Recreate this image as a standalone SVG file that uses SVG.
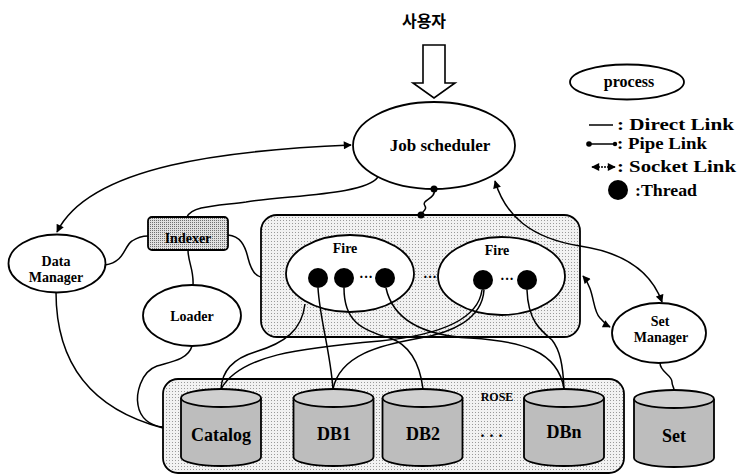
<svg xmlns="http://www.w3.org/2000/svg" width="738" height="476" viewBox="0 0 738 476">
<style>
text{font-family:"Liberation Serif","Times New Roman",serif;font-weight:bold;fill:#000;text-anchor:middle}
.node{fill:#fff;stroke:#000;stroke-width:1.8}
.ln{fill:none;stroke:#000;stroke-width:1.5}
.cylb{fill:#bdbdbd;stroke:#000;stroke-width:1.8}
.cylt{fill:#cfcfcf;stroke:#000;stroke-width:1.8}
.cyltxt{font-size:18px}
.small{font-size:14px}
.dot{fill:#000}
.leg{font-size:17px;text-anchor:start}
</style>
<defs>
<marker id="ah" viewBox="0 0 10 10" refX="9" refY="5" markerWidth="9" markerHeight="8" markerUnits="userSpaceOnUse" orient="auto-start-reverse">
<path d="M0,0 L10,5 L0,10 z" fill="#000"/>
</marker>
<pattern id="dots" width="3" height="3" patternUnits="userSpaceOnUse">
<rect width="3" height="3" fill="#f2f2f2"/>
<rect x="1" y="1" width="1" height="1" fill="#9a9a9a"/>
</pattern>
<pattern id="dots2" width="2" height="2" patternUnits="userSpaceOnUse">
<rect width="2" height="2" fill="#e0e0e0"/>
<rect width="1" height="1" fill="#707070"/>
</pattern>
</defs>

<g id="title">
<text x="424" y="27" style="font-family:'Noto Sans CJK KR','Noto Sans',sans-serif;font-size:16px;font-weight:bold">사용자</text>
<polygon points="423,45 445,45 445,83 455,83 434,98 413,83 423,83" fill="#fff" stroke="#000" stroke-width="1.6"/>
</g>

<g id="legend">
<ellipse cx="627" cy="82" rx="57" ry="17.5" class="node"/>
<text x="629" y="87" style="font-size:16px">process</text>
<line x1="589" y1="125" x2="613" y2="125" class="ln"/>
<text x="617" y="130" class="leg" textLength="117" lengthAdjust="spacingAndGlyphs">: Direct Link</text>
<line x1="589" y1="144" x2="615" y2="144" class="ln"/>
<circle cx="589" cy="144" r="2.8" class="dot"/>
<circle cx="615" cy="144" r="2.2" class="dot"/>
<text x="617" y="149" class="leg" textLength="90" lengthAdjust="spacingAndGlyphs">: Pipe Link</text>
<line x1="592" y1="167" x2="615" y2="167" class="ln" stroke-dasharray="2,1" marker-start="url(#ah)" marker-end="url(#ah)"/>
<text x="617" y="172" class="leg" textLength="119" lengthAdjust="spacingAndGlyphs">: Socket Link</text>
<circle cx="618" cy="190" r="10" class="dot"/>
<text x="635" y="196" class="leg" textLength="62" lengthAdjust="spacingAndGlyphs">:Thread</text>
</g>

<g id="job-scheduler">
<ellipse cx="434" cy="145.5" rx="81" ry="43.5" class="node"/>
<text x="440" y="151" style="font-size:17px">Job scheduler</text>
</g>

<g id="data-manager">
<ellipse cx="57" cy="263.5" rx="48.5" ry="29" class="node"/>
<text x="56" y="266" class="small">Data</text>
<text x="56" y="282" class="small">Manager</text>
</g>

<g id="indexer">
<rect x="148" y="217" width="80" height="33" rx="4" fill="url(#dots2)" stroke="#000" stroke-width="1.8"/>
<text x="188" y="243" class="small">Indexer</text>
</g>

<g id="loader">
<ellipse cx="192" cy="315.5" rx="49" ry="30.5" class="node"/>
<text x="192" y="321" class="small">Loader</text>
</g>

<g id="fire-container">
<rect x="261" y="215" width="319" height="122" rx="16" fill="url(#dots)" stroke="#000" stroke-width="1.8"/>
<text x="430" y="282" style="font-size:14px">···</text>
</g>

<g id="fire1">
<ellipse cx="350" cy="273.5" rx="64" ry="38.5" class="node"/>
<text x="345" y="253" class="small">Fire</text>
<circle cx="318" cy="278" r="10" class="dot"/>
<circle cx="344" cy="278" r="10" class="dot"/>
<text x="366" y="282" style="font-size:14px">···</text>
<circle cx="385" cy="278" r="10" class="dot"/>
</g>

<g id="fire2">
<ellipse cx="501.5" cy="276" rx="63.5" ry="39" class="node"/>
<text x="497" y="255" class="small">Fire</text>
<circle cx="483" cy="280" r="10" class="dot"/>
<text x="507" y="284" style="font-size:14px">···</text>
<circle cx="527" cy="280" r="10" class="dot"/>
</g>

<g id="set-manager">
<ellipse cx="659" cy="333" rx="47" ry="30" class="node"/>
<text x="660" y="326" class="small">Set</text>
<text x="661" y="342" class="small">Manager</text>
</g>

<g id="rose">
<rect x="163" y="379" width="461" height="94" rx="15" fill="url(#dots)" stroke="#000" stroke-width="1.8"/>
<text x="497" y="401" style="font-size:12px">ROSE</text>
<text x="494" y="437" style="font-size:16px;letter-spacing:5px">...</text>
</g>

<g id="catalog">
<path class="cylb" d="M181,398 L181,457 A40,9 0 0 0 261,457 L261,398"/>
<ellipse cx="221" cy="398" rx="40" ry="9" class="cylt"/>
<text x="221" y="441" class="cyltxt">Catalog</text>
</g>
<g id="db1">
<path class="cylb" d="M293.5,398 L293.5,457 A40,9 0 0 0 373.5,457 L373.5,398"/>
<ellipse cx="333.5" cy="398" rx="40" ry="9" class="cylt"/>
<text x="334" y="440" class="cyltxt">DB1</text>
</g>
<g id="db2">
<path class="cylb" d="M382.5,398 L382.5,457 A40,9 0 0 0 462.5,457 L462.5,398"/>
<ellipse cx="422.5" cy="398" rx="40" ry="9" class="cylt"/>
<text x="423" y="440" class="cyltxt">DB2</text>
</g>
<g id="dbn">
<path class="cylb" d="M524,398 L524,457 A40,9 0 0 0 604,457 L604,398"/>
<ellipse cx="564" cy="398" rx="40" ry="9" class="cylt"/>
<text x="564" y="438" class="cyltxt">DBn</text>
</g>
<g id="set">
<path class="cylb" d="M634,399 L634,458 A40,9 0 0 0 714,458 L714,399"/>
<ellipse cx="674" cy="399" rx="40" ry="9" class="cylt"/>
<text x="674" y="442" class="cyltxt">Set</text>
</g>

<g id="connectors">
<path class="ln" d="M351,145 C230,150 90,165 57,232" marker-start="url(#ah)" marker-end="url(#ah)"/>
<path class="ln" d="M378,177 C365,195 290,195 246,202 C215,206 192,206 187,217"/>
<path class="ln" d="M434,189 C437,199 420,200 425,206 C428,210 421,212 421,215"/>
<circle cx="434" cy="189" r="3.5" class="dot"/>
<circle cx="421" cy="215" r="3.5" class="dot"/>
<path class="ln" d="M495,181 C505,215 530,238 580,246 C620,252 650,268 662,302" marker-start="url(#ah)" marker-end="url(#ah)"/>
<path class="ln" d="M583,276 C595,290 592,310 600,318 C604,322 606,325 610,327" marker-start="url(#ah)" marker-end="url(#ah)"/>
<path class="ln" d="M105,265 C125,262 124,246 132,241 C138,237 142,236 148,236"/>
<path class="ln" d="M228,235 C240,236 245,245 248,258 C251,270 255,276 261,277"/>
<path class="ln" d="M188,250 C188,262 194,270 193,285"/>
<path class="ln" d="M192,346 C188,360 170,362 157,366 C140,372 136,395 138,405 C140,418 150,426 163,427"/>
<path class="ln" d="M56,292 C56,345 75,405 163,428"/>
<path class="ln" d="M305,304 C302,330 285,343 255,352 C235,358 222,370 221,389"/>
<path class="ln" d="M482,290 C478,320 440,335 380,341 C300,348 240,355 221,389"/>
<path class="ln" d="M484,290 C482,320 450,333 420,338 C380,345 340,355 333,389"/>
<path class="ln" d="M318,288 C320,320 330,350 333,389"/>
<path class="ln" d="M344,288 C344,320 360,330 390,338 C410,345 420,365 423,389"/>
<path class="ln" d="M386,288 C392,315 415,335 470,338 C520,341 558,350 564,389"/>
<path class="ln" d="M527,290 C528,320 540,330 552,340 C560,350 563,365 564,389"/>
<path class="ln" d="M660,363 C660,372 672,375 672,382 C672,386 674,387 674,390"/>
</g>
</svg>
